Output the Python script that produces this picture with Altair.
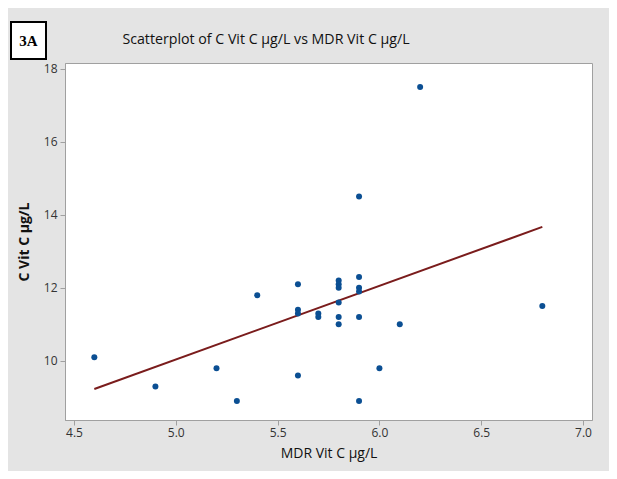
import altair as alt
import pandas as pd

# Data
mdr_vitc = [4.6, 4.9, 5.2, 5.3, 5.4,
            5.6, 5.6, 5.6, 5.6,
            5.7, 5.7,
            5.8, 5.8, 5.8, 5.8, 5.8, 5.8,
            5.9, 5.9, 5.9, 5.9, 5.9, 5.9,
            6.0, 6.1, 6.2, 6.8]
c_vitc = [10.1, 9.3, 9.8, 8.9, 11.8,
          12.1, 11.4, 11.3, 9.6,
          11.3, 11.2,
          12.2, 12.1, 12.0, 11.6, 11.2, 11.0,
          14.5, 12.3, 12.0, 11.9, 11.2, 8.9,
          9.8, 11.0, 17.5, 11.5]

fit_x = [4.6, 6.8]
fit_y = [9.23, 13.67]

x_ticks = [4.5, 5.0, 5.5, 6.0, 6.5, 7.0]
y_ticks = [10, 12, 14, 16, 18]

title_text = "Scatterplot of C Vit C µg/L vs MDR Vit C µg/L"
panel_label = "3A"

pts = pd.DataFrame({"x": mdr_vitc, "y": c_vitc})
fit = pd.DataFrame({"x": fit_x, "y": fit_y})

FONT = "Open Sans"

xscale = alt.Scale(domain=[4.456, 7.044], nice=False, zero=False)
yscale = alt.Scale(domain=[8.38, 18.16], nice=False, zero=False)

xaxis = alt.Axis(values=x_ticks, format=".1f", title="MDR Vit C µg/L", grid=False,
                 tickSize=5, labelPadding=2, titlePadding=8)
yaxis = alt.Axis(values=y_ticks, format="d", title="C Vit C µg/L", grid=False,
                 tickSize=5, labelPadding=3, titlePadding=12, titleFontWeight="bold")

points = alt.Chart(pts).mark_circle(size=36, color="#0b4f93", opacity=1).encode(
    x=alt.X("x:Q", scale=xscale, axis=xaxis),
    y=alt.Y("y:Q", scale=yscale, axis=yaxis),
)

line = alt.Chart(fit).mark_line(color="#7a1c1c", strokeWidth=2).encode(
    x=alt.X("x:Q", scale=xscale),
    y=alt.Y("y:Q", scale=yscale),
)

deco = pd.DataFrame({"t": [title_text]})
title = alt.Chart(deco).mark_text(fontSize=14.2, font=FONT, color="#111111",
                                  align="center", baseline="middle").encode(
    x=alt.value(201), y=alt.value(-23), text="t:N")

boxdf = pd.DataFrame({"t": [panel_label]})
box = alt.Chart(boxdf).mark_rect(fill="white", stroke="black", strokeWidth=2).encode(
    x=alt.value(-54), x2=alt.value(-19), y=alt.value(-41), y2=alt.value(-4))
boxtext = alt.Chart(boxdf).mark_text(fontSize=15, font="Liberation Serif", fontWeight="bold",
                                     color="black", align="center", baseline="middle").encode(
    x=alt.value(-36.5), y=alt.value(-22), text="t:N")

chart = alt.layer(line, points, box, boxtext, title).properties(
    width=527, height=357,
    padding={"left": 57, "top": 55, "right": 17, "bottom": 51},
    autosize="none",
    background="#e4e4e4",
).configure_view(
    fill="white", stroke="#a0a0a0", strokeWidth=1
).configure_axis(
    labelFont=FONT, titleFont=FONT, labelFontSize=12, titleFontSize=14,
    labelColor="#333333", titleColor="#111111", titleFontWeight="normal",
    domainColor="#a0a0a0", tickColor="#a0a0a0",
)

chart.save("out.html", embed_options={"renderer": "svg", "actions": False})
